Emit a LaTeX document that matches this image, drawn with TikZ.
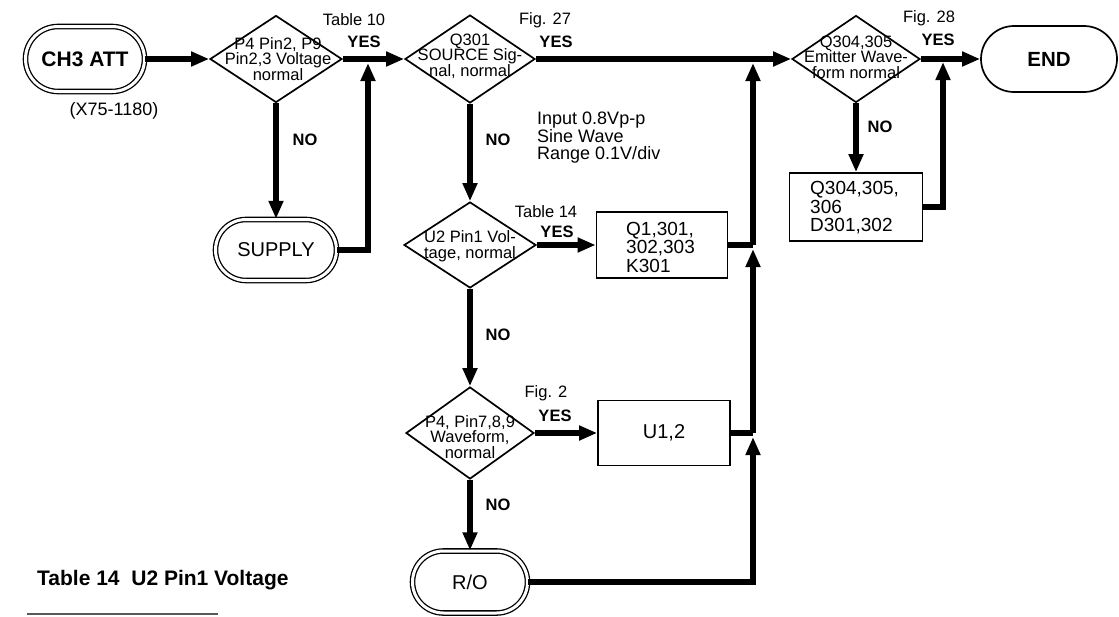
\documentclass[tikz,border=0pt]{standalone}
\usepackage{fontspec}
\setmainfont{Liberation Sans}
\usetikzlibrary{arrows.meta,shapes.geometric,shapes.misc}
\begin{document}
\begin{tikzpicture}[x=1pt,y=-1pt,
  flow/.style={line width=5.5pt,-{Triangle[length=18pt,width=14pt]}},
  bar/.style={line width=5.5pt},
  dia/.style={draw,diamond,line width=1.7pt,inner sep=0pt},
  dtext/.style={font=\fontsize{16.5}{15.5}\selectfont,align=center,inner sep=0pt},
  term/.style={draw,rounded rectangle,double,double distance=3pt,line width=1.3pt,inner sep=0pt},
  endterm/.style={draw,rounded rectangle,line width=1.7pt,inner sep=0pt},
  box/.style={draw,line width=1.7pt,inner sep=0pt},
  btext/.style={font=\fontsize{19}{18.5}\selectfont,align=left,inner sep=0pt,anchor=west},
  lbl/.style={font=\fontsize{16.5}{18}\selectfont,inner sep=0pt},
  yes/.style={font=\bfseries\fontsize{16.5}{16}\selectfont,inner sep=0pt},
]
\useasboundingbox (0,0) rectangle (1119,616);

% first row
\node[term,minimum width=119pt,minimum height=65pt,font=\bfseries\fontsize{21}{21}\selectfont] (ch3) at (85,59) {CH3 ATT};
\node[font=\fontsize{18}{18}\selectfont,inner sep=0pt] (x75) at (114,111) {(X75-1180)};

\node[dia,minimum width=132pt,minimum height=87pt] (d1) at (276,59) {};
\node[dtext] (t1) at (278,59) {P4 Pin2, P9\\Pin2,3 Voltage\\normal};
\node[lbl] (tab10) at (354,20) {Table 10};
\node[yes] (yes1) at (364,42) {YES};

\node[term,minimum width=121pt,minimum height=61pt,font=\fontsize{20}{20}\selectfont] (sup) at (276,250) {SUPPLY};
\node[yes] (no1) at (305,140) {NO};
\coordinate (j1) at (368,63);

\node[dia,minimum width=130pt,minimum height=88pt] (d2) at (470,59) {};
\node[dtext] (t2) at (470,56) {Q301\\SOURCE Sig-\\nal, normal};
\node[lbl] (fig27) at (545,20) {Fig. 27};
\node[yes] (yes2) at (556,42) {YES};

\node[dia,minimum width=128pt,minimum height=87pt] (d3) at (856,59) {};
\node[dtext] (t3) at (856,57) {Q304,305\\Emitter Wave-\\form normal};
\node[lbl] (fig28) at (929,18) {Fig. 28};
\node[yes] (yes3) at (938,40) {YES};

\node[endterm,minimum width=136pt,minimum height=66pt,font=\bfseries\fontsize{20.5}{20}\selectfont] (end) at (1049,59) {END};

\node[box,minimum width=133pt,minimum height=68pt] (b3) at (856,207) {};
\node[btext] (bt3) at (810,208) {Q304,305,\\306\\D301,302};
\node[yes] (no5) at (880,127) {NO};
\coordinate (j5) at (943,62);

% second column
\node[font=\fontsize{18}{17.5}\selectfont,inner sep=0pt,align=left,anchor=north west] (inp) at (537,112) {Input 0.8Vp-p\\Sine Wave\\Range 0.1V/div};
\node[yes] (no2) at (498,140) {NO};

\node[dia,minimum width=132pt,minimum height=86pt] (d4) at (470,245) {};
\node[dtext] (t4) at (470,246) {U2 Pin1 Vol-\\tage, normal};
\node[lbl] (tab14) at (546,212) {Table 14};
\node[yes] (yes4) at (557,232) {YES};

\node[box,minimum width=131pt,minimum height=66pt] (b1) at (662,245) {};
\node[btext] (bt1) at (626,247) {Q1,301,\\302,303\\K301};
\coordinate (j2) at (753,245);
\coordinate (j3) at (753,63);
\node[yes] (no3) at (498,335) {NO};

\node[dia,minimum width=128pt,minimum height=92pt] (d5) at (470,433) {};
\node[dtext] (t5) at (470,437) {P4, Pin7,8,9\\Waveform,\\normal};
\node[lbl] (fig2) at (546,393) {Fig. 2};
\node[yes] (yes5) at (555,416) {YES};

\node[box,minimum width=132pt,minimum height=65pt,font=\fontsize{20}{20}\selectfont] (b2) at (664,433) {U1,2};
\coordinate (j4) at (753,433);
\coordinate (j4a) at (753,249);
\node[yes] (no4) at (498,505) {NO};

\node[term,minimum width=115pt,minimum height=62pt,font=\fontsize{20}{20}\selectfont] (ro) at (470,582) {R/O};
\coordinate (j6) at (753,437);

% table caption
\node[font=\bfseries\fontsize{21}{21}\selectfont,anchor=west,inner sep=0pt] (tt) at (37,580) {Table 14\ \ U2 Pin1 Voltage};
\coordinate (r1) at (27,614);
\coordinate (r2) at (218,614);
\draw[line width=2pt,black!65] (r1) -- (r2);

% connectors
\draw[flow] (ch3.east) -- (d1.west);
\draw[flow] (d1.east) -- (d2.west);
\draw[flow] (d1.south) -- (sup.north);
\draw[flow] (sup.east) -| (j1);
\draw[flow] (d2.east) -- (d3.west);
\draw[flow] (d2.south) -- (d4.north);
\draw[flow] (d4.east) -- (b1.west);
\draw[flow] (d4.south) -- (d5.north);
\draw[flow] (d5.east) -- (b2.west);
\draw[flow] (d5.south) -- (ro.north);
\draw[bar] (b1.east) -- (j2);
\draw[flow] (j2) -- (j3);
\draw[bar] (b2.east) -- (j4);
\draw[flow] (j4) -- (j4a);
\draw[flow] (ro.east) -| (j6);
\draw[flow] (d3.east) -- (end.west);
\draw[flow] (d3.south) -- (b3.north);
\draw[flow] (b3.east) -| (j5);
\end{tikzpicture}
\end{document}
